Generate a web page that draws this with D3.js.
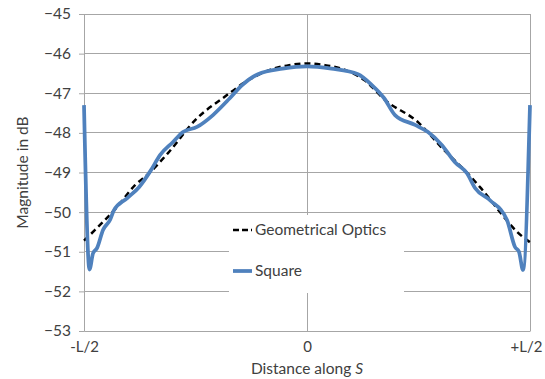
<!DOCTYPE html>
<html>
<head>
<meta charset="utf-8">
<script src="https://cdn.jsdelivr.net/npm/d3@7"></script>
<style>
  body { margin: 0; background: #fff; }
  text { font-family: Lato, "Open Sans", sans-serif; fill: #404040; }
</style>
</head>
<body>
<div id="chart"></div>
<script>
// positions along S, -0.5 = -L/2, 0.5 = +L/2
const goS = [-0.5, -0.4753, -0.4260, -0.3856, -0.3543, -0.3117, -0.2466, -0.1883, -0.1300, -0.0830, -0.0400, 0,
             0.0400, 0.0852, 0.1300, 0.1749, 0.2489, 0.3027, 0.3700, 0.3879, 0.4843, 0.5];
const goV = [-50.72, -50.45, -49.87, -49.32, -49.02, -48.51, -47.63, -47.12, -46.66, -46.41, -46.29, -46.25,
             -46.29, -46.41, -46.68, -47.17, -47.73, -48.38, -49.14, -49.37, -50.63, -50.76];

const sqS = [-0.5, -0.4877, -0.4798, -0.4709, -0.4574, -0.4417, -0.4327, -0.4036, -0.3767, -0.3498,
             -0.3296, -0.3004, -0.2780, -0.2466, -0.2108, -0.1726, -0.1460, -0.1099, -0.0550, 0,
             0.0550, 0.1143, 0.1460, 0.1726, 0.1973, 0.2422, 0.2713, 0.3027, 0.3318, 0.3587, 0.3767, 0.4103,
             0.4484, 0.4664, 0.4753, 0.4843, 0.5];
const sqV = [-47.30, -51.45, -51.04, -50.91, -50.45, -50.20, -49.95, -49.65, -49.37, -48.94,
             -48.56, -48.23, -47.98, -47.85, -47.55, -47.12, -46.80, -46.52, -46.38, -46.32,
             -46.38, -46.52, -46.80, -47.12, -47.55, -47.80, -47.98, -48.31, -48.74, -49.02, -49.39, -49.70,
             -50.20, -50.88, -51.00, -51.46, -47.30];

const xTicks = [-0.5, 0, 0.5];
const xTickLabels = ["-L/2", "0", "+L/2"];
const yTicks = [-45, -46, -47, -48, -49, -50, -51, -52, -53];
const seriesNames = ["Geometrical Optics", "Square"];

const W = 545, H = 379;
const margin = {top: 14, right: 15, bottom: 48, left: 84};
const width = W - margin.left - margin.right,
      height = H - margin.top - margin.bottom;

const svg = d3.select("#chart").append("svg")
    .attr("width", W).attr("height", H);
const g = svg.append("g")
    .attr("transform", "translate(" + margin.left + "," + margin.top + ")");

const x = d3.scaleLinear().domain([-0.5, 0.5]).range([0, width]);
const y = d3.scaleLinear().domain([-53, -45]).range([height, 0]);

const gridColor = "#a6a6a6";

// horizontal gridlines
g.append("g").selectAll("line")
    .data(yTicks.filter(d => d > -53))
    .join("line")
    .attr("x1", 0).attr("x2", width)
    .attr("y1", d => y(d)).attr("y2", d => y(d))
    .attr("stroke", gridColor).attr("shape-rendering", "crispEdges");

// vertical gridlines
g.append("g").selectAll("line")
    .data(xTicks.slice(1))
    .join("line")
    .attr("x1", d => x(d)).attr("x2", d => x(d))
    .attr("y1", 0).attr("y2", height)
    .attr("stroke", gridColor).attr("shape-rendering", "crispEdges");

// y axis
const yAxis = g.append("g")
    .call(d3.axisLeft(y).tickValues(yTicks).tickFormat(d3.format("d")).tickSize(5).tickPadding(8));
yAxis.select(".domain").attr("stroke", gridColor);
yAxis.selectAll(".tick line").attr("stroke", gridColor);
yAxis.selectAll("text").style("font-size", "15.5px").attr("fill", "#404040");

// x axis
const xAxis = g.append("g")
    .attr("transform", `translate(0,${height})`)
    .call(d3.axisBottom(x).tickValues(xTicks).tickFormat((d, i) => xTickLabels[i]).tickSize(0).tickPadding(10));
xAxis.select(".domain").attr("stroke", gridColor);
xAxis.selectAll("text").style("font-size", "15px").attr("fill", "#404040");
// keep the last label inside the window
xAxis.selectAll(".tick").filter(d => d === 0.5).select("text").attr("dx", -4);

// axis titles
g.append("text")
    .attr("transform", "rotate(-90)")
    .attr("x", -height / 2)
    .attr("y", -margin.left + 28)
    .attr("text-anchor", "middle")
    .style("font-size", "15.5px")
    .text("Magnitude in dB");

const xt = g.append("text")
    .attr("x", width / 2)
    .attr("y", height + 43)
    .attr("text-anchor", "middle")
    .style("font-size", "15.5px");
xt.append("tspan").text("Distance along ");
xt.append("tspan").style("font-style", "italic").text("S");

// legend box
const legend = g.append("g").attr("transform", `translate(${229 - margin.left},${215 - margin.top})`);
legend.append("rect").attr("width", 175).attr("height", 78).attr("fill", "#fff");

// series
const line = d3.line().x(d => x(d[0])).y(d => y(d[1])).curve(d3.curveMonotoneX);

g.append("path")
    .datum(goS.map((s, i) => [s, goV[i]]))
    .attr("d", line)
    .attr("fill", "none")
    .attr("stroke", "#000")
    .attr("stroke-width", 2.5)
    .attr("stroke-dasharray", "6,4");

g.append("path")
    .datum(sqS.map((s, i) => [s, sqV[i]]))
    .attr("d", line)
    .attr("fill", "none")
    .attr("stroke", "#4f81bd")
    .attr("stroke-width", 3.75)
    .attr("stroke-linejoin", "round");

// legend entries
legend.append("line")
    .attr("x1", 4).attr("x2", 23).attr("y1", 15).attr("y2", 15)
    .attr("stroke", "#000").attr("stroke-width", 2.5).attr("stroke-dasharray", "6,3");
legend.append("text").attr("x", 26).attr("y", 15).attr("dy", "0.35em")
    .style("font-size", "15.5px").text(seriesNames[0]);

legend.append("line")
    .attr("x1", 4).attr("x2", 23).attr("y1", 56).attr("y2", 56)
    .attr("stroke", "#4f81bd").attr("stroke-width", 3.75);
legend.append("text").attr("x", 26).attr("y", 56).attr("dy", "0.35em")
    .style("font-size", "15.5px").text(seriesNames[1]);
</script>
</body>
</html>
